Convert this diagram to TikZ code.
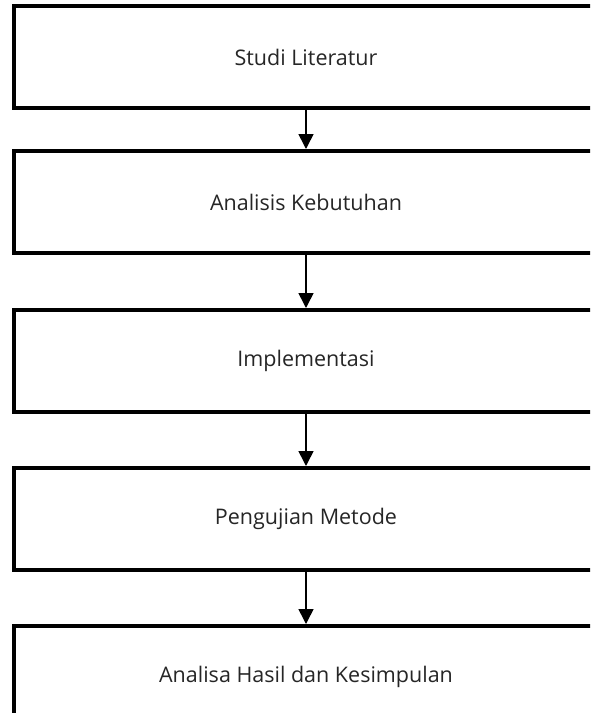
\documentclass[tikz,border=0pt]{standalone}
\usepackage{fontspec}
\setmainfont{Open Sans}
\usepackage{tikz}
\usetikzlibrary{arrows.meta,positioning}
\definecolor{cText}{HTML}{262626}
\tikzset{
  stage/.style = {draw=black, line width=4pt, fill=white, text=cText,
                  minimum width=585pt, minimum height=102pt, inner sep=0pt,
                  align=center, font=\fontsize{21.5}{25}\selectfont},
  flow/.style  = {black, line width=1.6pt,
                  -{Triangle[width=15pt,length=15pt]}},
}
\begin{document}
\begin{tikzpicture}[x=1pt, y=1pt]
  \useasboundingbox (0,0) rectangle (590,-713);
  \clip (0,0) rectangle (590,-713);
  \node[stage] (studi) at (306,-57) {Studi Literatur};
  \node[stage, below=39pt of studi] (analisis) {Analisis Kebutuhan};
  \node[stage, below=53pt of analisis] (impl) {Implementasi};
  \node[stage, below=52pt of impl] (uji) {Pengujian Metode};
  \node[stage, below=52pt of uji] (hasil) {Analisa Hasil dan Kesimpulan};
  % alur tahapan
  \draw[flow] (studi.south) -- (analisis.north);
  \draw[flow] (analisis.south) -- (impl.north);
  \draw[flow] (impl.south) -- (uji.north);
  \draw[flow] (uji.south) -- (hasil.north);
\end{tikzpicture}
\end{document}
